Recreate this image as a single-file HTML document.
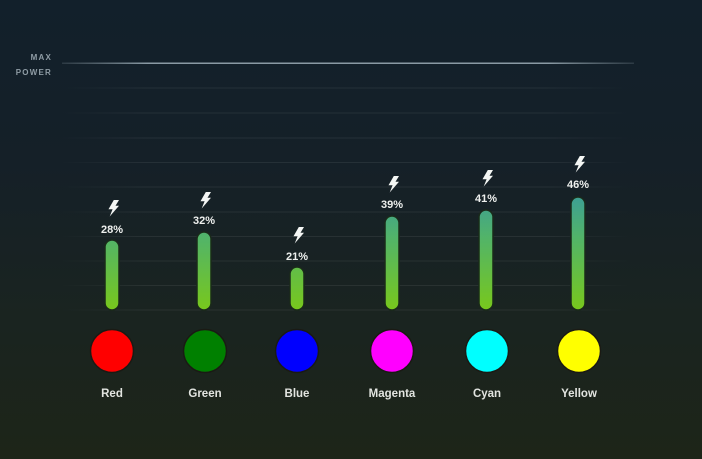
<!DOCTYPE html>
<html><head><meta charset="utf-8">
<style>
html,body{margin:0;padding:0;}
body{width:702px;height:459px;overflow:hidden;background:linear-gradient(180deg,#12202b 0%,#152028 35%,#1a2420 70%,#1d2518 100%);}
svg{display:block;}
text{font-family:"Liberation Sans",sans-serif;}
</style></head>
<body>
<svg width="702" height="459" viewBox="0 0 702 459" xmlns="http://www.w3.org/2000/svg">
<defs>
<linearGradient id="bar" gradientUnits="userSpaceOnUse" x1="0" y1="190" x2="0" y2="310">
<stop offset="0" stop-color="#3a9c9a"/>
<stop offset="0.4" stop-color="#52b468"/>
<stop offset="1" stop-color="#78c81c"/>
</linearGradient>
<linearGradient id="grid" x1="0" y1="0" x2="1" y2="0">
<stop offset="0" stop-color="#ffffff" stop-opacity="0"/>
<stop offset="0.15" stop-color="#ffffff" stop-opacity="0.07"/>
<stop offset="0.85" stop-color="#ffffff" stop-opacity="0.07"/>
<stop offset="1" stop-color="#ffffff" stop-opacity="0"/>
</linearGradient>
<linearGradient id="maxl" x1="0" y1="0" x2="1" y2="0">
<stop offset="0" stop-color="#8fa0aa" stop-opacity="0.2"/>
<stop offset="0.15" stop-color="#9fb0ba" stop-opacity="0.85"/>
<stop offset="0.85" stop-color="#9fb0ba" stop-opacity="0.85"/>
<stop offset="1" stop-color="#8fa0aa" stop-opacity="0.2"/>
</linearGradient>
<path id="bolt" d="M1.8,-8 L7,-8 L3.5,-2.3 L7,-2.3 L-2.3,8.5 L0.6,1.2 L-3.5,1.2 Z" fill="#f4f6f4"/>
</defs>

<g>
<rect x="60" y="87.5" width="570" height="1" fill="url(#grid)"/>
<rect x="60" y="112.5" width="570" height="1" fill="url(#grid)"/>
<rect x="60" y="137.5" width="570" height="1" fill="url(#grid)"/>
<rect x="60" y="162" width="570" height="1" fill="url(#grid)"/>
<rect x="60" y="186.5" width="570" height="1" fill="url(#grid)"/>
<rect x="60" y="211.5" width="570" height="1" fill="url(#grid)"/>
<rect x="60" y="236" width="570" height="1" fill="url(#grid)"/>
<rect x="60" y="260.5" width="570" height="1" fill="url(#grid)"/>
<rect x="60" y="285" width="570" height="1" fill="url(#grid)"/>
<rect x="60" y="309.5" width="570" height="1" fill="url(#grid)"/>
</g>
<rect x="62" y="62.5" width="572" height="1.5" fill="url(#maxl)"/>

<text x="52" y="60" text-anchor="end" font-size="8" font-weight="bold" fill="#8f9ca5" letter-spacing="1.2">MAX</text>
<text x="52" y="75" text-anchor="end" font-size="8" font-weight="bold" fill="#8f9ca5" letter-spacing="1.2">POWER</text>

<g stroke="#1a2a1a" stroke-width="1.5">
<rect x="105" y="240" width="14" height="70" rx="7" fill="url(#bar)"/>
<rect x="197" y="232" width="14" height="78" rx="7" fill="url(#bar)"/>
<rect x="290" y="267" width="14" height="43" rx="7" fill="url(#bar)"/>
<rect x="385" y="216" width="14" height="94" rx="7" fill="url(#bar)"/>
<rect x="479" y="210" width="14" height="100" rx="7" fill="url(#bar)"/>
<rect x="571" y="197" width="14" height="113" rx="7" fill="url(#bar)"/>
</g>

<use href="#bolt" x="112" y="208"/>
<use href="#bolt" x="204" y="200"/>
<use href="#bolt" x="297" y="235"/>
<use href="#bolt" x="392" y="184"/>
<use href="#bolt" x="486" y="178"/>
<use href="#bolt" x="578" y="164"/>

<g font-size="11" font-weight="bold" fill="#eef0ee" text-anchor="middle">
<text x="112" y="233">28%</text>
<text x="204" y="224">32%</text>
<text x="297" y="260">21%</text>
<text x="392" y="208">39%</text>
<text x="486" y="202">41%</text>
<text x="578" y="188">46%</text>
</g>

<g stroke="#1a1a14" stroke-width="1.5">
<circle cx="112" cy="351" r="21.5" fill="#ff0000"/>
<circle cx="205" cy="351" r="21.5" fill="#008000"/>
<circle cx="297" cy="351" r="21.5" fill="#0000ff"/>
<circle cx="392" cy="351" r="21.5" fill="#ff00ff"/>
<circle cx="487" cy="351" r="21.5" fill="#00ffff"/>
<circle cx="579" cy="351" r="21.5" fill="#ffff00"/>
</g>

<g font-size="11.5" font-weight="bold" fill="#e2e4e0" text-anchor="middle">
<text x="112" y="397">Red</text>
<text x="205" y="397">Green</text>
<text x="297" y="397">Blue</text>
<text x="392" y="397">Magenta</text>
<text x="487" y="397">Cyan</text>
<text x="579" y="397">Yellow</text>
</g>
</svg>
</body></html>
